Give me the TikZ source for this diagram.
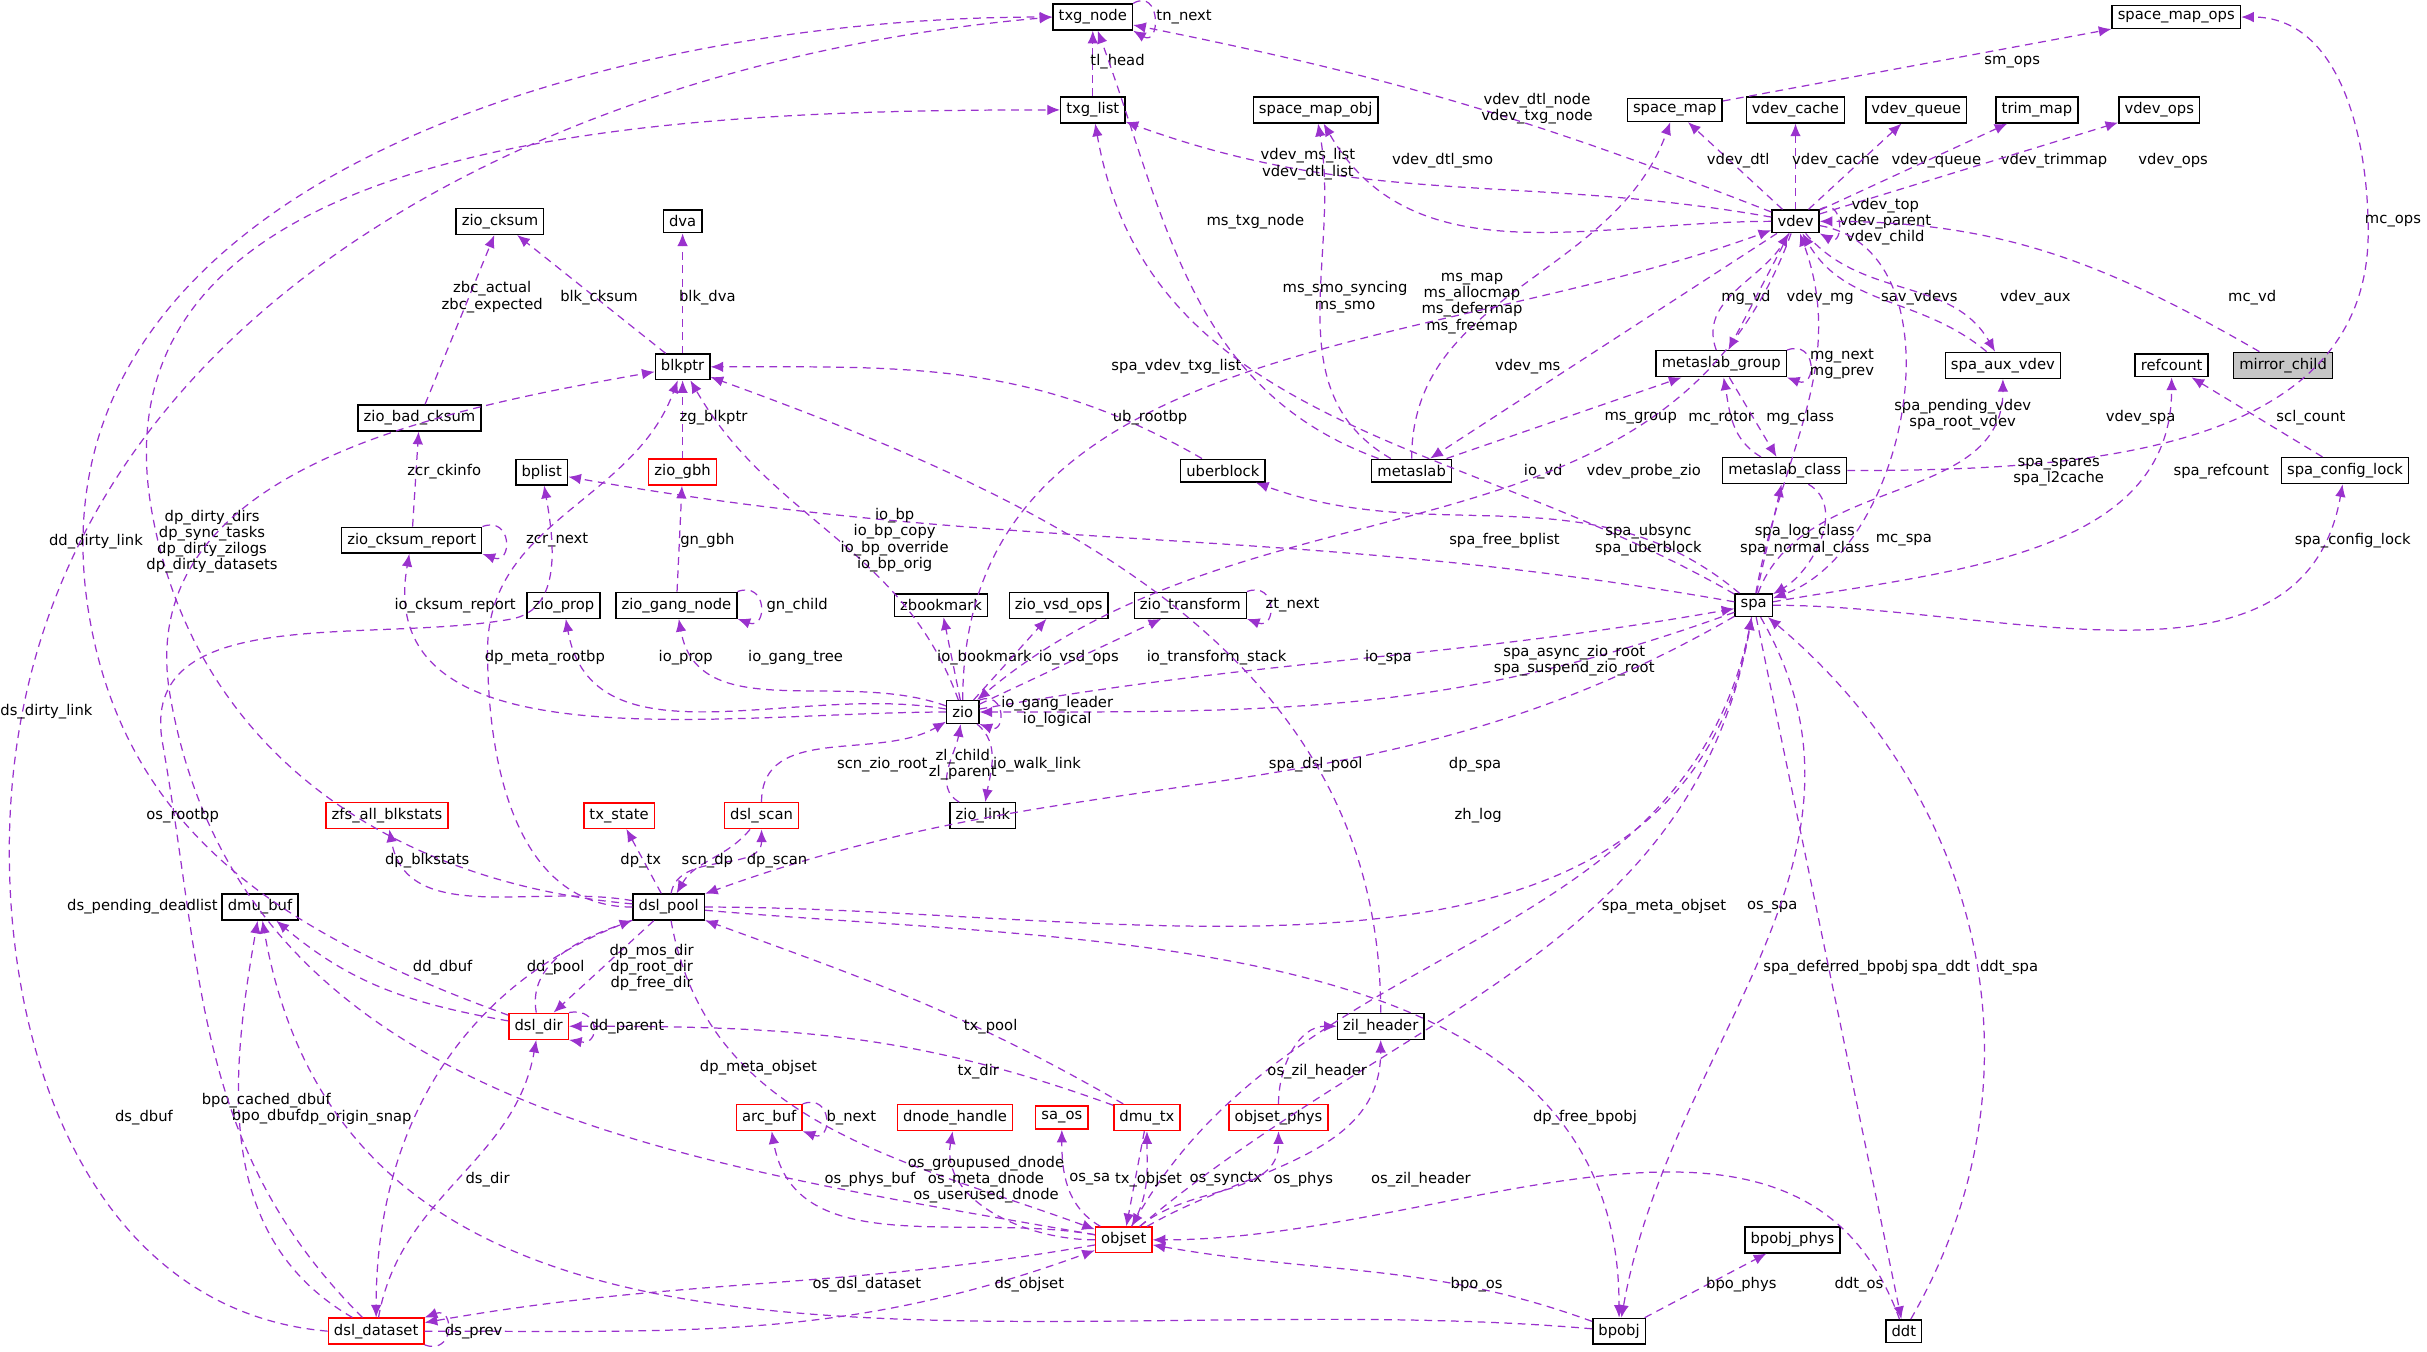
\documentclass[tikz,border=0pt]{standalone}
\usepackage{fontspec}
\setmainfont{DejaVu Sans}
\usetikzlibrary{arrows.meta}
\definecolor{edg}{HTML}{9A32CD}
\begin{document}
\begin{tikzpicture}[x=0.01548cm,y=-0.01548cm,
 n/.style={draw=black,fill=white,font=\fontsize{4.2}{4.6}\selectfont,inner sep=1.6pt,minimum height=0.225cm},
 r/.style={n,draw=red},
 g/.style={n,fill=gray!45},
 e/.style={draw=edg,dashed,dash pattern=on 2.2pt off 1.6pt,line width=0.35pt,-{Latex[length=3.6pt,width=3pt]}},
 l/.style={font=\fontsize{4.2}{4.6}\selectfont,align=center,inner sep=0pt}]
\useasboundingbox (0,0) rectangle (1568,873);
% nodes
\node[n] (txgnode) at (706,11) {txg\_node};
\node[n] (txglist) at (706,71) {txg\_list};
\node[n] (smops) at (1406,11) {space\_map\_ops};
\node[n] (smobj) at (850,71) {space\_map\_obj};
\node[n] (sm) at (1082,71) {space\_map};
\node[n] (vcache) at (1160,71) {vdev\_cache};
\node[n] (vqueue) at (1238,71) {vdev\_queue};
\node[n] (trim) at (1316,71) {trim\_map};
\node[n] (vops) at (1395,71) {vdev\_ops};
\node[n] (cksum) at (323,143) {zio\_cksum};
\node[n] (dva) at (441,143) {dva};
\node[n] (vdev) at (1160,143) {vdev};
\node[n] (blkptr) at (441,237) {blkptr};
\node[n] (mg) at (1112,235) {metaslab\_group};
\node[n] (aux) at (1294,236) {spa\_aux\_vdev};
\node[n] (refc) at (1403,236) {refcount};
\node[g] (mirror) at (1475,236) {mirror\_child};
\node[n] (badck) at (271,270) {zio\_bad\_cksum};
\node[n] (bplist) at (350,305) {bplist};
\node[r] (gbh) at (441,305) {zio\_gbh};
\node[n] (uber) at (790,304) {uberblock};
\node[n] (ms) at (912,304) {metaslab};
\node[n] (mc) at (1153,304) {metaslab\_class};
\node[n] (scl) at (1515,304) {spa\_config\_lock};
\node[n] (ckrep) at (266,349) {zio\_cksum\_report};
\node[n] (prop) at (364,391) {zio\_prop};
\node[n] (gang) at (437,391) {zio\_gang\_node};
\node[n] (zbm) at (608,391) {zbookmark};
\node[n] (vsd) at (684,391) {zio\_vsd\_ops};
\node[n] (ztr) at (769,391) {zio\_transform};
\node[n] (spa) at (1133,391) {spa};
\node[n] (zio) at (622,460) {zio};
\node[r] (zfsab) at (250,527) {zfs\_all\_blkstats};
\node[r] (txst) at (400,527) {tx\_state};
\node[r] (scan) at (492,527) {dsl\_scan};
\node[n] (zlink) at (635,527) {zio\_link};
\node[n] (pool) at (432,586) {dsl\_pool};
\node[n] (dbuf) at (168,586) {dmu\_buf};
\node[r] (ddir) at (348,663) {dsl\_dir};
\node[n] (zil) at (892,663) {zil\_header};
\node[r] (arc) at (497,722) {arc\_buf};
\node[r] (dnh) at (617,722) {dnode\_handle};
\node[r] (saos) at (686,722) {sa\_os};
\node[r] (dmutx) at (741,722) {dmu\_tx};
\node[r] (osphys) at (826,722) {objset\_phys};
\node[r] (objset) at (726,801) {objset};
\node[n] (bpphys) at (1158,801) {bpobj\_phys};
\node[r] (dds) at (243,860) {dsl\_dataset};
\node[n] (bpobj) at (1046,860) {bpobj};
\node[n] (ddt) at (1230,860) {ddt};
% edges
\draw[e] (txgnode.north east) to[out=30,in=-30,looseness=3] (txgnode.south east); \node[l] at (765,11) {tn\_next};
\draw[e] (txglist) -- (txgnode); \node[l] at (722,40) {tl\_head};
\draw[e] (vdev) to[bend right=5] (txgnode); \node[l] at (993,70) {vdev\_dtl\_node\\vdev\_txg\_node};
\draw[e] (ms) to[out=160,in=-70] (txgnode); \node[l] at (811,143) {ms\_txg\_node};
\draw[e] (ddir) to[out=160,in=-80] (58,400) to[out=100,in=180] (txgnode.west); \node[l] at (62,350) {dd\_dirty\_link};
\draw[e] (dds.west) to[out=175,in=-90] (6,550) to[out=90,in=185] (txgnode.west); \node[l] at (30,460) {ds\_dirty\_link};
\draw[e] (vdev) to[out=170,in=-20] (txglist); \node[l] at (845,106) {vdev\_ms\_list\\vdev\_dtl\_list};
\draw[e] (spa) to[out=150,in=-80] (txglist); \node[l] at (760,237) {spa\_vdev\_txg\_list};
\draw[e] (pool) to[out=175,in=-80] (98,330) to[out=100,in=180] (txglist.west); \node[l] at (137,350) {dp\_dirty\_dirs\\dp\_sync\_tasks\\dp\_dirty\_zilogs\\dp\_dirty\_datasets};
\draw[e] (sm) -- (smops); \node[l] at (1300,40) {sm\_ops};
\draw[e] (mc) to[out=0,in=-90] (1530,150) to[out=90,in=0] (smops.east); \node[l] at (1546,143) {mc\_ops};
\draw[e] (vdev) to[out=180,in=-60] (smobj); \node[l] at (932,104) {vdev\_dtl\_smo};
\draw[e] (ms) to[out=150,in=-80] (smobj); \node[l] at (869,192) {ms\_smo\_syncing\\ms\_smo};
\draw[e] (ms) to[out=90,in=-110] (sm); \node[l] at (951,196) {ms\_map\\ms\_allocmap\\ms\_defermap\\ms\_freemap};
\draw[e] (vdev) -- (sm); \node[l] at (1123,104) {vdev\_dtl};
\draw[e] (vdev) -- (vcache); \node[l] at (1186,104) {vdev\_cache};
\draw[e] (vdev) -- (vqueue); \node[l] at (1251,104) {vdev\_queue};
\draw[e] (vdev) -- (trim); \node[l] at (1327,104) {vdev\_trimmap};
\draw[e] (vdev) -- (vops); \node[l] at (1404,104) {vdev\_ops};
\draw[e] (vdev.north east) to[out=30,in=-30,looseness=3] (vdev.south east); \node[l] at (1218,143) {vdev\_top\\vdev\_parent\\vdev\_child};
\draw[e] (mirror) to[out=150,in=0] (vdev); \node[l] at (1455,192) {mc\_vd};
\draw[e] (mg) to[out=110,in=-120] (vdev); \node[l] at (1128,192) {mg\_vd};
\draw[e] (vdev) -- (mg); \node[l] at (1176,192) {vdev\_mg};
\draw[e] (aux) to[out=140,in=-60] (vdev); \node[l] at (1240,192) {sav\_vdevs};
\draw[e] (vdev) to[out=-50,in=120] (aux); \node[l] at (1315,192) {vdev\_aux};
\draw[e] (vdev) -- (ms); \node[l] at (987,237) {vdev\_ms};
\draw[e] (spa) to[out=80,in=-70] (vdev); \node[l] at (1268,268) {spa\_pending\_vdev\\spa\_root\_vdev};
\draw[e] (vdev) to[out=-10,in=20] (spa); \node[l] at (1383,270) {vdev\_spa};
\draw[e] (zio) to[out=90,in=-160] (vdev); \node[l] at (997,305) {io\_vd};
\draw[e] (vdev) to[out=-110,in=40] (zio); \node[l] at (1062,305) {vdev\_probe\_zio};
\draw[e] (mg.north east) to[out=20,in=-20,looseness=3] (mg.south east); \node[l] at (1190,235) {mg\_next\\mg\_prev};
\draw[e] (ms) -- (mg); \node[l] at (1060,270) {ms\_group};
\draw[e] (mc) to[out=150,in=-80] (mg); \node[l] at (1112,270) {mc\_rotor};
\draw[e] (mg) -- (mc); \node[l] at (1163,270) {mg\_class};
\draw[e] (mc) to[out=-30,in=30] (spa); \node[l] at (1230,349) {mc\_spa};
\draw[e] (spa) -- (mc); \node[l] at (1166,349) {spa\_log\_class\\spa\_normal\_class};
\draw[e] (spa) to[out=70,in=-90] (aux); \node[l] at (1330,305) {spa\_spares\\spa\_l2cache};
\draw[e] (spa) to[out=10,in=-90] (refc); \node[l] at (1435,305) {spa\_refcount};
\draw[e] (scl) -- (refc); \node[l] at (1493,270) {scl\_count};
\draw[e] (spa) to[out=0,in=-100] (scl); \node[l] at (1520,349) {spa\_config\_lock};
\draw[e] (spa) to[out=140,in=-20] (uber); \node[l] at (1065,349) {spa\_ubsync\\spa\_uberblock};
\draw[e] (uber) to[out=150,in=0] (blkptr); \node[l] at (743,270) {ub\_rootbp};
\draw[e] (spa) to[out=170,in=-10] (bplist); \node[l] at (972,349) {spa\_free\_bplist};
\draw[e] (blkptr) -- (cksum); \node[l] at (387,192) {blk\_cksum};
\draw[e] (blkptr) -- (dva); \node[l] at (457,192) {blk\_dva};
\draw[e] (badck) -- (cksum); \node[l] at (318,192) {zbc\_actual\\zbc\_expected};
\draw[e] (ckrep) -- (badck); \node[l] at (287,305) {zcr\_ckinfo};
\draw[e] (ckrep.north east) to[out=20,in=-20,looseness=3] (ckrep.south east); \node[l] at (360,349) {zcr\_next};
\draw[e] (gbh) -- (blkptr); \node[l] at (461,270) {zg\_blkptr};
\draw[e] (gang) -- (gbh); \node[l] at (457,349) {gn\_gbh};
\draw[e] (gang.north east) to[out=20,in=-20,looseness=3] (gang.south east); \node[l] at (515,391) {gn\_child};
\draw[e] (ztr.north east) to[out=20,in=-20,looseness=3] (ztr.south east); \node[l] at (835,391) {zt\_next};
\draw[e] (zio) to[out=110,in=-60] (blkptr); \node[l] at (578,349) {io\_bp\\io\_bp\_copy\\io\_bp\_override\\io\_bp\_orig};
\draw[e] (zio) to[out=180,in=-100] (ckrep); \node[l] at (294,391) {io\_cksum\_report};
\draw[e] (zio) to[out=170,in=-80] (prop); \node[l] at (443,425) {io\_prop};
\draw[e] (zio) to[out=160,in=-80] (gang); \node[l] at (514,425) {io\_gang\_tree};
\draw[e] (zio) -- (zbm); \node[l] at (636,425) {io\_bookmark};
\draw[e] (zio) -- (vsd); \node[l] at (697,425) {io\_vsd\_ops};
\draw[e] (zio) -- (ztr); \node[l] at (786,425) {io\_transform\_stack};
\draw[e] (zio) to[out=10,in=190] (spa); \node[l] at (897,425) {io\_spa};
\draw[e] (spa) to[out=200,in=0] (zio); \node[l] at (1017,427) {spa\_async\_zio\_root\\spa\_suspend\_zio\_root};
\draw[e] (zio.north east) to[out=20,in=-20,looseness=3] (zio.south east); \node[l] at (683,460) {io\_gang\_leader\\io\_logical};
\draw[e] (zlink) to[out=150,in=-100] (zio); \node[l] at (622,494) {zl\_child\\zl\_parent};
\draw[e] (zio) to[out=-40,in=80] (zlink); \node[l] at (670,494) {io\_walk\_link};
\draw[e] (scan) to[out=90,in=-150] (zio); \node[l] at (570,494) {scn\_zio\_root};
\draw[e] (spa) to[out=210,in=20] (pool); \node[l] at (850,494) {spa\_dsl\_pool};
\draw[e] (pool) to[out=0,in=-100] (spa); \node[l] at (953,494) {dp\_spa};
\draw[e] (pool) to[out=170,in=-80] (zfsab); \node[l] at (276,556) {dp\_blkstats};
\draw[e] (pool) -- (txst); \node[l] at (414,556) {dp\_tx};
\draw[e] (pool) to[out=80,in=-90] (scan); \node[l] at (502,556) {dp\_scan};
\draw[e] (scan) to[out=-130,in=60] (pool); \node[l] at (457,556) {scn\_dp};
\draw[e] (pool) to[out=180,in=-90] (315,420) to[out=90,in=-110] (blkptr); \node[l] at (352,425) {dp\_meta\_rootbp};
\draw[e] (pool) -- (ddir); \node[l] at (421,625) {dp\_mos\_dir\\dp\_root\_dir\\dp\_free\_dir};
\draw[e] (ddir) to[out=100,in=200] (pool); \node[l] at (359,625) {dd\_pool};
\draw[e] (pool) to[out=-80,in=160] (objset); \node[l] at (490,690) {dp\_meta\_objset};
\draw[e] (pool) to[out=200,in=90] (dds); \node[l] at (230,722) {dp\_origin\_snap};
\draw[e] (pool) to[out=-5,in=90] (bpobj); \node[l] at (1024,722) {dp\_free\_bpobj};
\draw[e] (dmutx) to[out=150,in=-20] (pool); \node[l] at (640,663) {tx\_pool};
\draw[e] (dmutx) to[out=160,in=0] (ddir); \node[l] at (632,692) {tx\_dir};
\draw[e] (ddir) to[out=170,in=-40] (dbuf); \node[l] at (286,625) {dd\_dbuf};
\draw[e] (ddir.north east) to[out=10,in=-10,looseness=3] (ddir.south east); \node[l] at (405,663) {dd\_parent};
\draw[e] (dds) to[out=80,in=-100] (ddir); \node[l] at (315,762) {ds\_dir};
\draw[e] (dds) to[out=150,in=-100] (dbuf); \node[l] at (93,722) {ds\_dbuf};
\draw[e] (bpobj) to[out=175,in=-80] (dbuf); \node[l] at (172,716) {bpo\_cached\_dbuf\\bpo\_dbuf};
\draw[e] (dds) to[out=135,in=-80] (105,480) to[out=100,in=190] (330,400) to[out=10,in=-80] (bplist); \node[l] at (92,586) {ds\_pending\_deadlist};
\draw[e] (objset) to[out=170,in=-80] (110,450) to[out=100,in=190] (blkptr); \node[l] at (118,527) {os\_rootbp};
\draw[e] (objset) to[out=190,in=10] (dds); \node[l] at (560,830) {os\_dsl\_dataset};
\draw[e] (dds) to[out=0,in=-160] (objset); \node[l] at (665,830) {ds\_objset};
\draw[e] (dds.south east) to[out=-20,in=20,looseness=3] (dds.north east); \node[l] at (306,860) {ds\_prev};
\draw[e] (objset) to[out=40,in=-100] (spa); \node[l] at (1075,586) {spa\_meta\_objset};
\draw[e] (spa) to[out=-100,in=60] (objset); \node[l] at (1145,586) {os\_spa};
\draw[e] (objset) to[out=170,in=-80] (arc); \node[l] at (562,762) {os\_phys\_buf};
\draw[e] (arc.north east) to[out=20,in=-20,looseness=3] (arc.south east); \node[l] at (550,722) {b\_next};
\draw[e] (objset) to[out=180,in=-100] (dnh); \node[l] at (637,762) {os\_groupused\_dnode\\os\_meta\_dnode\\os\_userused\_dnode};
\draw[e] (objset) to[out=150,in=-90] (saos); \node[l] at (704,762) {os\_sa};
\draw[e] (objset) to[out=60,in=-90] (dmutx); \node[l] at (792,762) {os\_synctx};
\draw[e] (dmutx) -- (objset); \node[l] at (742,762) {tx\_objset};
\draw[e] (objset) to[out=40,in=-90] (osphys); \node[l] at (842,762) {os\_phys};
\draw[e] (objset) to[out=30,in=-90] (zil); \node[l] at (918,762) {os\_zil\_header};
\draw[e] (osphys) to[out=90,in=180] (zil); \node[l] at (851,692) {os\_zil\_header};
\draw[e] (zil) to[out=90,in=-20] (blkptr); \node[l] at (955,527) {zh\_log};
\draw[e] (spa) to[out=-60,in=80] (bpobj); \node[l] at (1186,625) {spa\_deferred\_bpobj};
\draw[e] (bpobj) to[out=160,in=-10] (objset); \node[l] at (954,830) {bpo\_os};
\draw[e] (bpobj) -- (bpphys); \node[l] at (1125,830) {bpo\_phys};
\draw[e] (spa) -- (ddt); \node[l] at (1254,625) {spa\_ddt};
\draw[e] (ddt) to[out=60,in=-40] (spa); \node[l] at (1298,625) {ddt\_spa};
\draw[e] (ddt) to[out=110,in=0] (objset); \node[l] at (1201,830) {ddt\_os};
\end{tikzpicture}
\end{document}
